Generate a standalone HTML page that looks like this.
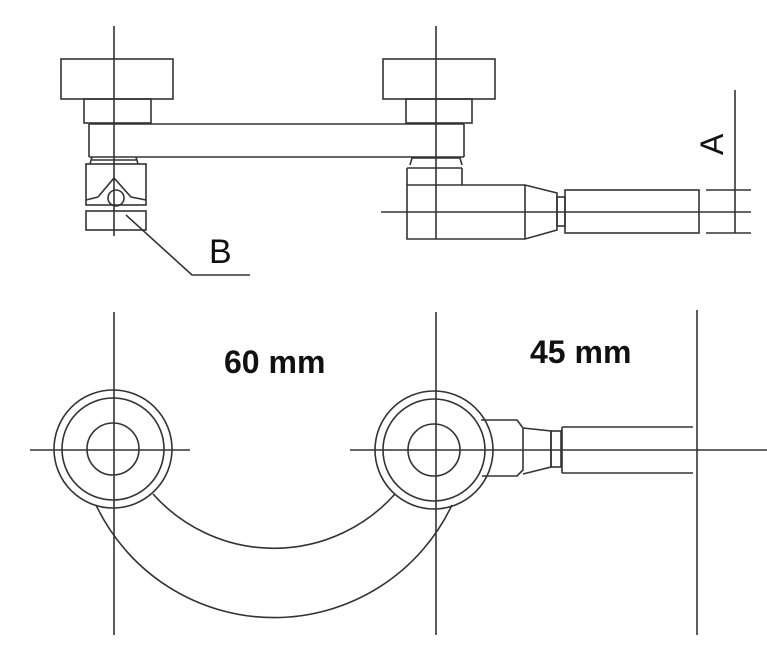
<!DOCTYPE html>
<html><head><style>body{margin:0;background:#fff}svg{display:block}</style></head>
<body>
<svg width="767" height="658" viewBox="0 0 767 658" xmlns="http://www.w3.org/2000/svg">
<g fill="none" stroke="#333" stroke-width="1.6">
<line x1="114" y1="26" x2="114" y2="236"/>
<rect x="61" y="59" width="112" height="40"/>
<rect x="84" y="99" width="67" height="24"/>
<path d="M89 124 H464 M89 157 H464 M89 124 V157 M464 124 V157"/>
<path d="M92 157 L90 164 M136 157 L138 164 M92 160 H136"/>
<rect x="86" y="164" width="60" height="41"/>
<path d="M98 197 L114 178 L131 197 L146 200 M98 197 L86 200"/>
<circle cx="116" cy="198" r="8"/>
<rect x="86" y="211" width="60" height="19"/>
<path d="M126 215 L192 275 H250"/>
<line x1="436" y1="26" x2="436" y2="239"/>
<rect x="383" y="59" width="112" height="40"/>
<rect x="406" y="99" width="66" height="24"/>
<path d="M410 165 L412 158 H460 L462 165 M407 168 V185 M462 168 V185 M407 168 H462"/>
<path d="M407 185 H525 L557 193 V230 L525 239 H407 Z M525 185 V239"/>
<rect x="557" y="197" width="8" height="29"/>
<rect x="565" y="190" width="134" height="43"/>
<line x1="381" y1="212" x2="751" y2="212"/>
<path d="M706 190 H751 M706 233 H751 M735 90 V233"/>
<line x1="114" y1="312" x2="114" y2="635"/>
<line x1="436" y1="312" x2="436" y2="635"/>
<line x1="697" y1="310" x2="697" y2="635"/>
<line x1="30" y1="450" x2="190" y2="450"/>
<line x1="350" y1="450" x2="767" y2="450"/>
<circle cx="113" cy="449" r="59"/><circle cx="113" cy="449" r="51"/><circle cx="113" cy="449" r="26"/>
<circle cx="434" cy="450" r="59"/><circle cx="434" cy="450" r="51"/><circle cx="434" cy="450" r="26"/>
<path d="M481 420 H517 L523 428 V470 L517 476 H482 M523 428 L551 431 V467 L523 474"/>
<rect x="551" y="431" width="10" height="36"/>
<path d="M562 427 H693 M562 473 H693 M562 427 V473"/>
<path d="M96 505 A197 197 0 0 0 452 505"/>
<path d="M153 494 A162 162 0 0 0 395 494"/>
</g>
<g font-family="Liberation Sans, sans-serif" fill="#111">
<text x="209" y="263" font-size="34">B</text>
<text x="0" y="0" font-size="32" transform="translate(723,155) rotate(-90)">A</text>
<text x="224" y="373" font-size="32" font-weight="bold">60 mm</text>
<text x="530" y="363" font-size="32" font-weight="bold">45 mm</text>
</g>
</svg>
</body></html>
